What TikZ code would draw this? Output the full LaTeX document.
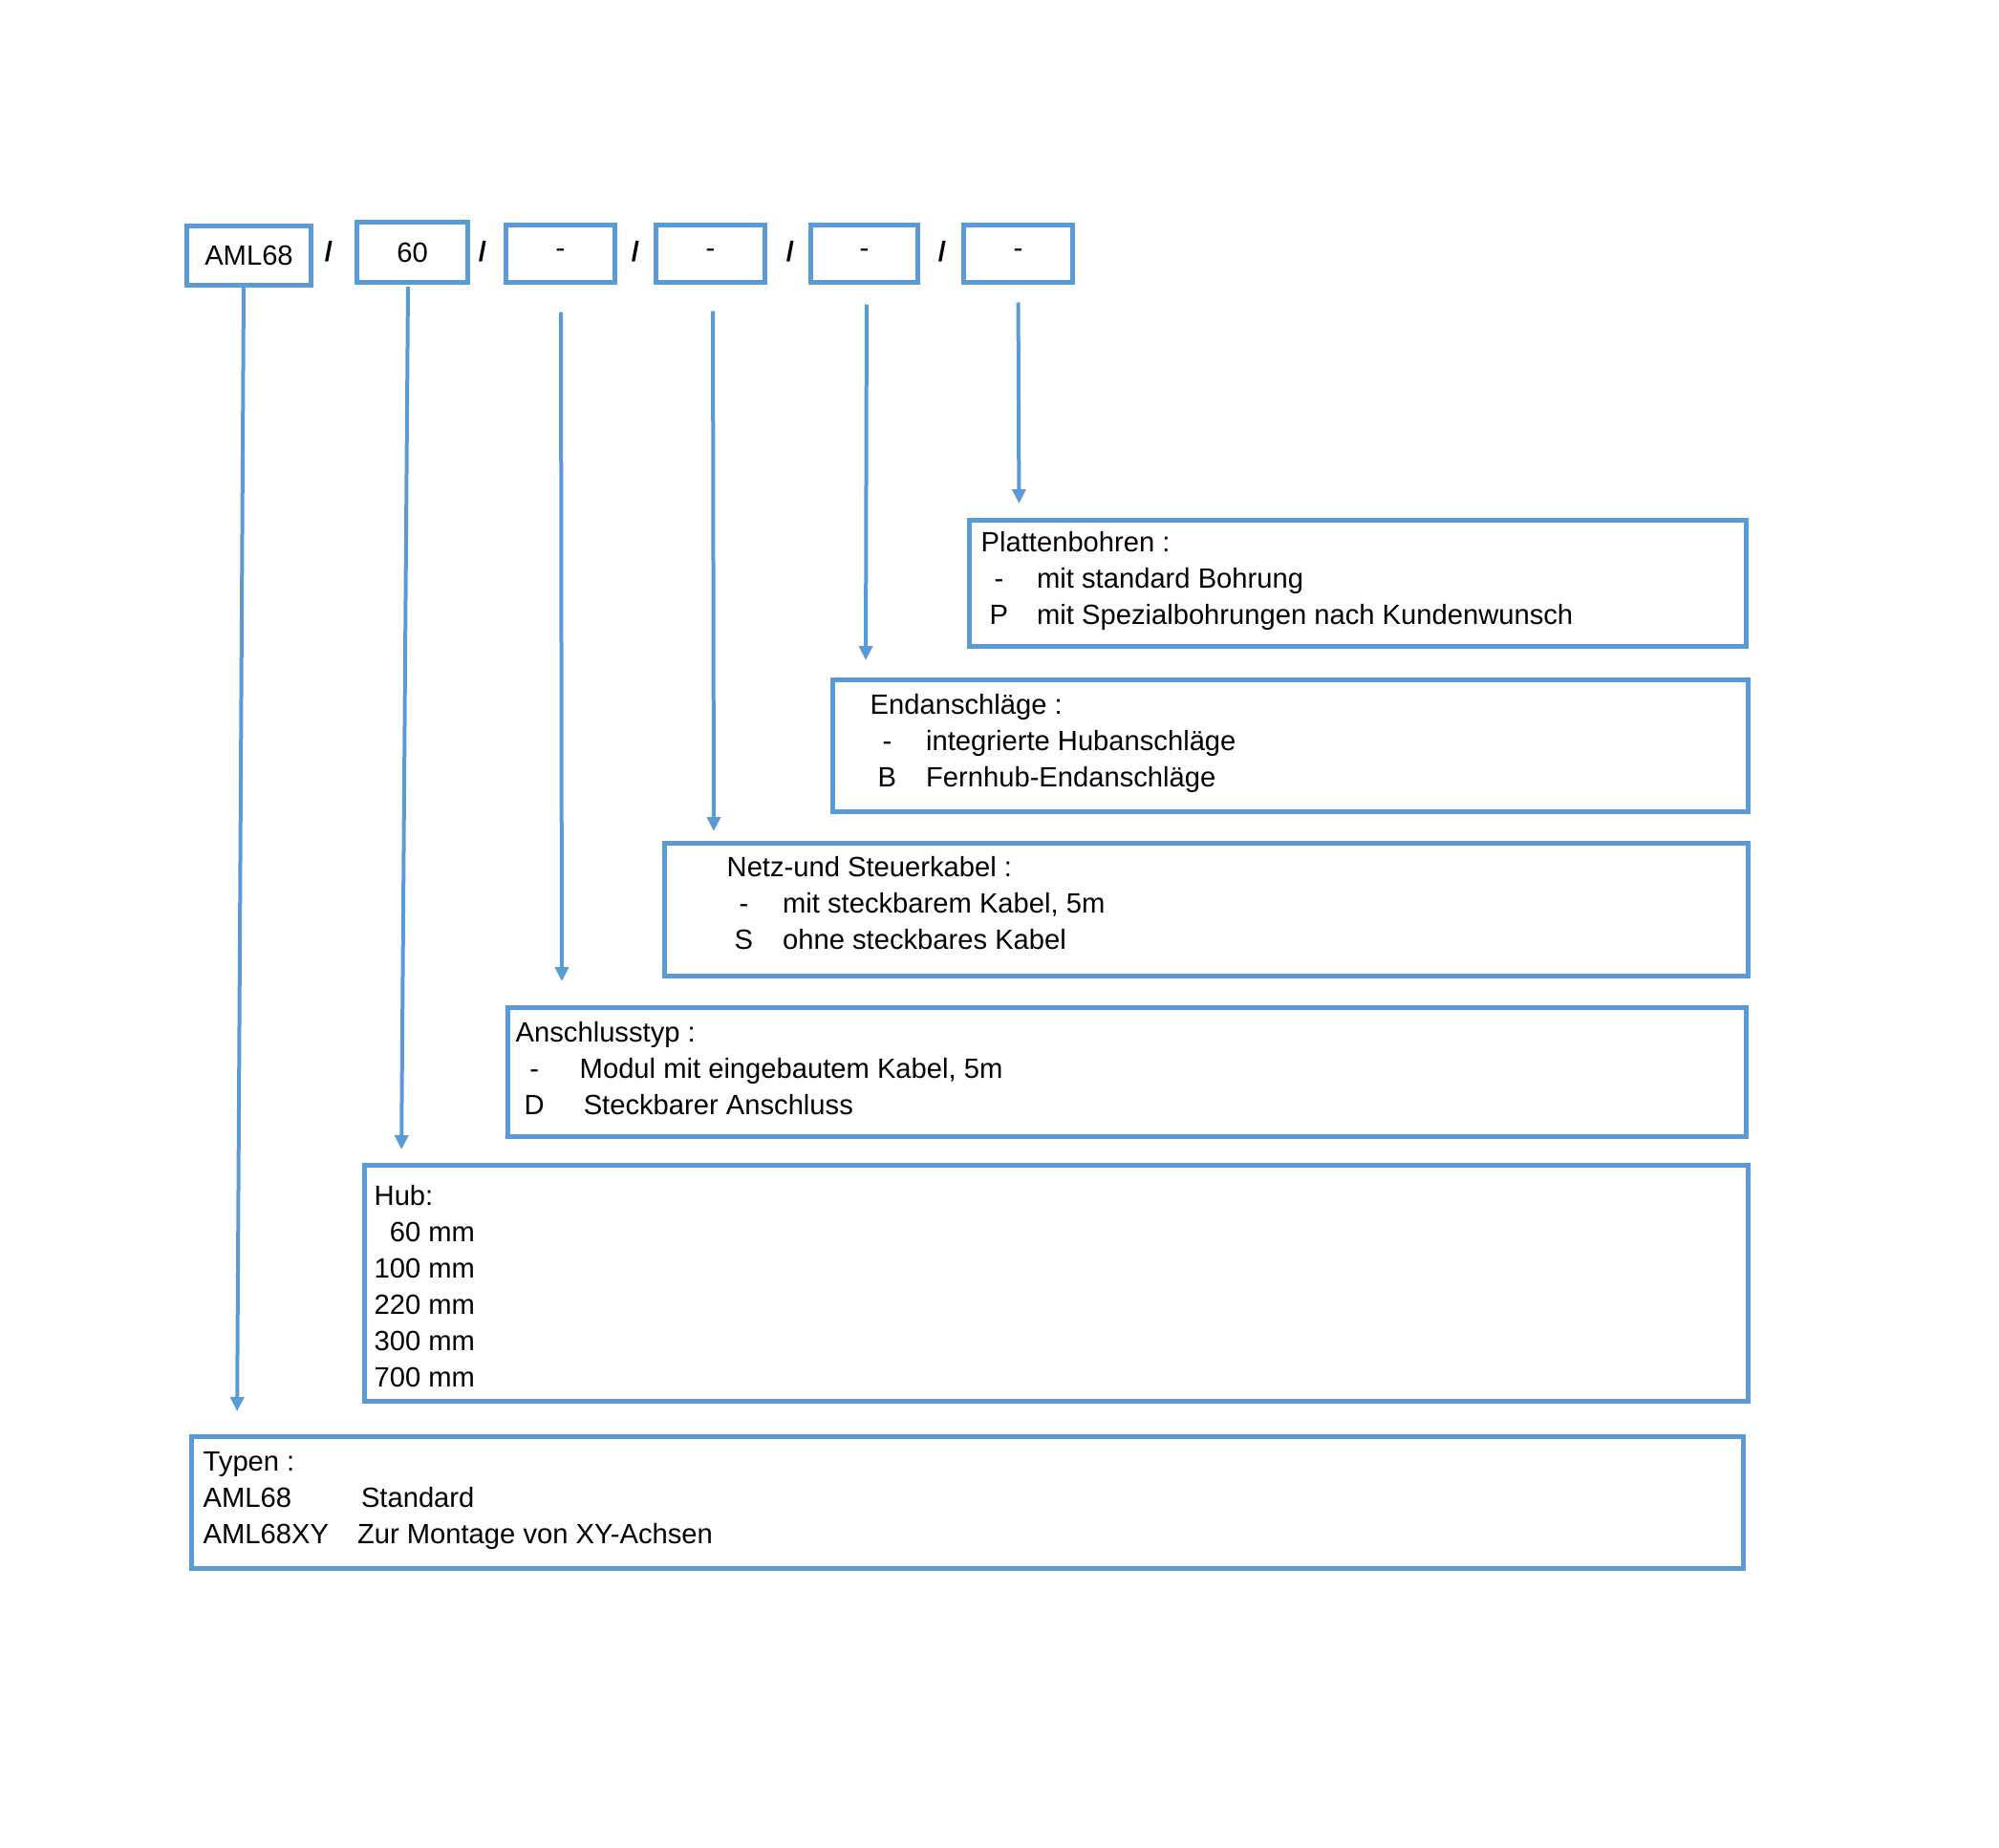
\documentclass[tikz,border=0pt]{standalone}
\usepackage{fontspec}
\setmainfont{Liberation Sans}
\usepackage{tikz}
\usetikzlibrary{positioning,arrows.meta}
\definecolor{boxblue}{HTML}{5B9BD5}

\begin{document}
\begin{tikzpicture}[
  font=\fontsize{8.3pt}{10.8pt}\selectfont,
  tbox/.style={rectangle,draw=boxblue,line width=0.05cm,minimum width=1.15cm,minimum height=0.62cm,inner sep=0pt},
  infobox/.style={rectangle,draw=boxblue,line width=0.05cm,anchor=north west,inner sep=0pt,outer sep=0pt},
  sep/.style={font=\fontsize{8.3pt}{10.8pt}\selectfont\bfseries},
  listtext/.style={inner sep=0pt,align=left},
  arr/.style={draw=boxblue,line width=0.04cm,-{Triangle[length=0.15cm,width=0.14cm]}},
]
\useasboundingbox (0,0) rectangle (20.92,-19.34);

% order code
\node (aml) [tbox,minimum width=1.30cm] at (2.605,-2.675) {AML68};
\node (hub) [tbox,minimum width=1.16cm,minimum height=0.63cm] at (4.315,-2.64) {60};
\node (opt1) [tbox,minimum width=1.14cm,minimum height=0.60cm] at (5.865,-2.655) {-};
\node (opt2) [tbox,minimum width=1.14cm,minimum height=0.60cm] at (7.435,-2.655) {-};
\node (opt3) [tbox,minimum width=1.12cm,minimum height=0.60cm] at (9.045,-2.655) {-};
\node (opt4) [tbox,minimum width=1.14cm,minimum height=0.60cm] at (10.655,-2.655) {-};
\node (s1) [sep] at (3.44,-2.63) {/};
\node (s2) [sep] at (5.05,-2.63) {/};
\node (s3) [sep] at (6.65,-2.63) {/};
\node (s4) [sep] at (8.27,-2.63) {/};
\node (s5) [sep] at (9.86,-2.63) {/};

% option boxes
\node (platten) [infobox,minimum width=8.13cm,minimum height=1.32cm] at (10.145,-5.445) {};
\node (ende) [infobox,minimum width=9.58cm,minimum height=1.38cm] at (8.715,-7.115) {};
\node (netz) [infobox,minimum width=11.34cm,minimum height=1.39cm] at (6.955,-8.825) {};
\node (ansch) [infobox,minimum width=12.96cm,minimum height=1.35cm] at (5.315,-10.545) {};
\node (hubbox) [infobox,minimum width=14.48cm,minimum height=2.47cm] at (3.815,-12.195) {};
\node (typen) [infobox,minimum width=16.24cm,minimum height=1.38cm] at (2.005,-15.035) {};

\node (plattentext) [listtext,right=0.115cm of platten.west,yshift=0.027cm] {%
\begin{tabular}{@{\hspace{0.09cm}}c@{\hspace{0.30cm}}l@{}}
\multicolumn{2}{@{}l@{}}{Plattenbohren :}\\
- & mit standard Bohrung\\
P & mit Spezialbohrungen nach Kundenwunsch
\end{tabular}};

\node (endetext) [listtext,right=0.385cm of ende.west,yshift=0.03cm] {%
\begin{tabular}{@{\hspace{0.08cm}}c@{\hspace{0.31cm}}l@{}}
\multicolumn{2}{@{}l@{}}{Endanschläge :}\\
- & integrierte Hubanschläge\\
B & Fernhub-Endanschläge
\end{tabular}};

\node (netztext) [listtext,right=0.645cm of netz.west,yshift=0.04cm] {%
\begin{tabular}{@{\hspace{0.08cm}}c@{\hspace{0.31cm}}l@{}}
\multicolumn{2}{@{}l@{}}{Netz-und Steuerkabel :}\\
- & mit steckbarem Kabel, 5m\\
S & ohne steckbares Kabel
\end{tabular}};

\node (anschtext) [listtext,right=0.075cm of ansch.west,yshift=0.01cm] {%
\begin{tabular}{@{\hspace{0.09cm}}c@{\hspace{0.37cm}}l@{}}
\multicolumn{2}{@{}l@{}}{Anschlusstyp :}\\
- & Modul mit eingebautem Kabel, 5m\\
D & \hspace{0.04cm}Steckbarer Anschluss
\end{tabular}};

\node (hubtext) [listtext,right=0.095cm of hubbox.west,yshift=-0.06cm] {%
\begin{tabular}{@{}r@{}}
\multicolumn{1}{@{}l@{}}{Hub:}\\
60 mm\\
100 mm\\
220 mm\\
300 mm\\
700 mm
\end{tabular}};

\node (typentext) [listtext,right=0.115cm of typen.west,yshift=0.03cm] {%
\begin{tabular}{@{}l@{\hspace{0.30cm}}l@{}}
\multicolumn{2}{@{}l@{}}{Typen :}\\
AML68 & \hspace{0.04cm}Standard\\
AML68XY & Zur Montage von XY-Achsen
\end{tabular}};

% arrows
\draw[arr,shorten >=0.265cm] ([xshift=-0.055cm]aml.south) -- ([xshift=-0.125cm]aml.south |- typen.north);
\draw[arr,shorten <=0.02cm,shorten >=0.165cm] ([xshift=-0.045cm]hub.south) -- ([xshift=-0.115cm]hub.south |- hubbox.north);
\draw[arr,shorten <=0.285cm,shorten >=0.275cm] ([xshift=0.005cm]opt1.south) -- ([xshift=0.015cm]opt1.south |- ansch.north);
\draw[arr,shorten <=0.275cm,shorten >=0.125cm] ([xshift=0.025cm]opt2.south) -- ([xshift=0.035cm]opt2.south |- netz.north);
\draw[arr,shorten <=0.205cm,shorten >=0.205cm] ([xshift=0.025cm]opt3.south) -- ([xshift=0.015cm]opt3.south |- ende.north);
\draw[arr,shorten <=0.185cm,shorten >=0.175cm] (opt4.south) -- ([xshift=0.01cm]opt4.south |- platten.north);
\end{tikzpicture}
\end{document}
